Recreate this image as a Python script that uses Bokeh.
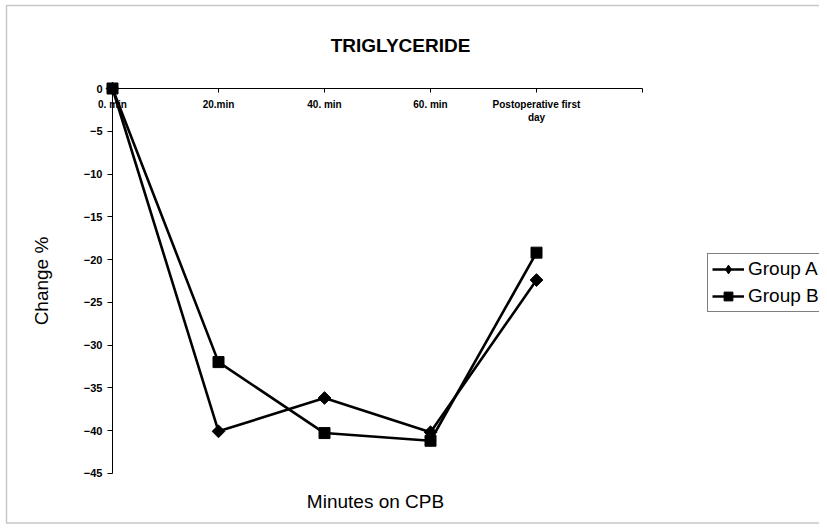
import math
from bokeh.plotting import figure
from bokeh.models import (Range1d, LinearAxis, FixedTicker, Label, Legend,
                          LegendItem, BoxAnnotation)
from bokeh.embed import file_html
from bokeh.resources import INLINE

# ---- data ----
categories = ["0. min", "20.min", "40. min", "60. min", "Postoperative first\nday"]
x_index = [0, 1, 2, 3, 4]
group_a = [0, -40.1, -36.2, -40.2, -22.4]
group_b = [0, -32.0, -40.3, -41.2, -19.2]
y_ticks = [0, -5, -10, -15, -20, -25, -30, -35, -40, -45]
series_names = ["Group A", "Group B"]

# ---- layout constants (picture pixels) ----
W, H = 819, 524
X0_PX, X_STEP = 112, 106.0       # x=0 pixel, pixels per category
Y0_PX, Y_STEP = 88, 8.55         # y=0 pixel, pixels per unit

x_start = -X0_PX / X_STEP
x_end = (W - X0_PX) / X_STEP
y_end = Y0_PX / Y_STEP
y_start = -(H - Y0_PX) / Y_STEP

FONT = "Liberation Sans"

p = figure(width=W, height=H, output_backend="svg", toolbar_location=None,
           x_axis_location=None, y_axis_location=None,
           x_range=Range1d(x_start, x_end), y_range=Range1d(y_start, y_end),
           min_border=0, outline_line_color=None,
           background_fill_color="white", border_fill_color="white")
p.grid.visible = False

# outer chart border (left, top, bottom; right edge runs off the picture)
px_x = 1.0 / X_STEP
px_y = 1.0 / Y_STEP
p.add_layout(BoxAnnotation(left=x_start + 6 * px_x, right=x_end + 50,
                           top=y_end - 5 * px_y, bottom=y_start + 1.5 * px_y,
                           fill_alpha=0, line_color="#444444", line_width=1.5))

# x axis at y = 0, labels beneath it
xaxis = LinearAxis(fixed_location=0, bounds=(0, 5),
                   ticker=FixedTicker(ticks=[0, 1, 2, 3, 4, 5]))
xaxis.major_label_overrides = {**{i: c for i, c in zip(x_index, categories)}, 5: ""}
xaxis.major_tick_in = 0
xaxis.major_tick_out = 4
xaxis.minor_tick_line_color = None
xaxis.axis_line_color = "black"
xaxis.major_tick_line_color = "black"
xaxis.major_label_standoff = 6
xaxis.major_label_text_font = FONT
xaxis.major_label_text_font_style = "bold"
xaxis.major_label_text_font_size = "10px"
xaxis.major_label_text_color = "black"
p.add_layout(xaxis, "below")

# y axis at x = 0
yaxis = LinearAxis(fixed_location=0, bounds=(-45, 0),
                   ticker=FixedTicker(ticks=y_ticks))
yaxis.major_tick_in = 0
yaxis.major_tick_out = 5
yaxis.minor_tick_line_color = None
yaxis.axis_line_color = "black"
yaxis.major_tick_line_color = "black"
yaxis.major_label_standoff = 5
yaxis.major_label_text_font = FONT
yaxis.major_label_text_font_style = "bold"
yaxis.major_label_text_font_size = "11px"
yaxis.major_label_text_color = "black"
yaxis.axis_label = "Change %"
yaxis.axis_label_text_font = FONT
yaxis.axis_label_text_font_style = "normal"
yaxis.axis_label_text_font_size = "19px"
yaxis.axis_label_text_color = "black"
yaxis.axis_label_standoff = 29
p.add_layout(yaxis, "left")

# series
la = p.line(x_index, group_a, line_color="black", line_width=2.6)
ma = p.scatter(x_index, group_a, marker="square", angle=math.pi / 4, size=9,
               fill_color="black", line_color="black")
# diamond symbol used for the legend entry (its only point, the first value,
# sits hidden under the Group B square at the origin)
ka = p.scatter(x_index[:1], group_a[:1], marker="diamond", size=10,
               fill_color="black", line_color="black")
lb = p.line(x_index, group_b, line_color="black", line_width=2.6)
mb = p.scatter(x_index, group_b, marker="square", size=11,
               fill_color="black", line_color="black")

# title and x-axis title
p.add_layout(Label(x=400, y=H - 45, x_units="screen",
                   y_units="screen", text="TRIGLYCERIDE", text_align="center",
                   text_baseline="middle", text_font=FONT, text_font_style="bold",
                   text_font_size="19px", text_color="black"))
p.add_layout(Label(x=375, y=H - 501, x_units="screen",
                   y_units="screen", text="Minutes on CPB", text_align="center",
                   text_baseline="middle", text_font=FONT, text_font_size="19px",
                   text_color="black"))

legend = Legend(items=[LegendItem(label=series_names[0], renderers=[la, ka]),
                       LegendItem(label=series_names[1], renderers=[lb, mb])],
                location=(707, H - 312))
legend.border_line_color = "black"
legend.border_line_width = 1
legend.padding = 4
legend.spacing = 5
legend.margin = 0
legend.glyph_width = 32
legend.glyph_height = 22
legend.label_height = 22
legend.label_standoff = 4
legend.label_text_font = FONT
legend.label_text_font_size = "19px"
legend.label_text_color = "black"
legend.background_fill_color = "white"
p.add_layout(legend)

open("out.html", "w").write(file_html(p, INLINE))
